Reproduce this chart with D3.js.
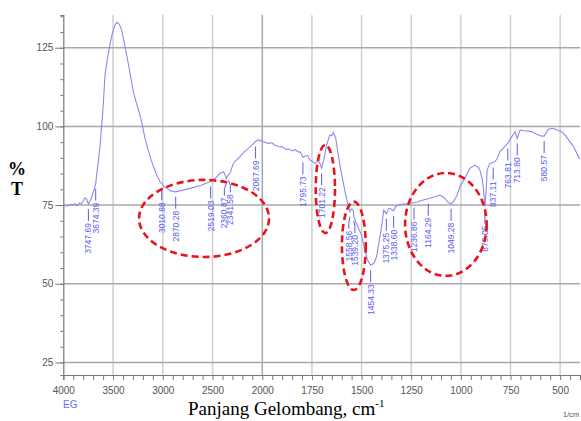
<!DOCTYPE html>
<html>
<head>
<meta charset="utf-8">
<script src="https://cdn.jsdelivr.net/npm/d3@7"></script>
<style>
  html, body { margin: 0; padding: 0; background: #fff; }
  svg { display: block; }
  .narrow { font-family: "Liberation Sans Narrow", "Arial Narrow", "Liberation Sans", sans-serif; font-stretch: condensed; }
</style>
</head>
<body>
<div id="chart"></div>
<script>
// FTIR spectrum (%T vs wavenumber)
const wavenumbers = [4000,3960,3930,3900,3880,3860,3840,3820,3800,3782,3765,3747.69,3720,3700,3690,3674.39,3665,3648,3630,3614,3600,3581,3560,3538,3515,3497,3475,3457,3435,3413,3390,3363,3330,3296,3260,3229,3200,3179,3145,3112,3070,3028,3010.88,2990,2960,2920,2870.28,2820,2727,2620,2526,2519.03,2470,2425,2390,2375,2360.87,2350,2341.58,2320,2291,2250,2224,2180,2124,2090,2067.69,2040,1995,1970,1953,1935,1919,1900,1880,1869,1850,1835,1818,1808,1795.73,1785,1772,1760,1745,1735,1718,1710,1701.22,1690,1676,1660,1650,1643,1630,1620,1609,1595,1583,1570,1558.56,1550,1542,1539.2,1530,1515,1500,1490,1483,1470,1454.33,1438,1425,1416,1400,1388,1375.25,1365,1358,1350,1338.6,1330,1316,1290,1257,1236,1220,1190,1164.29,1140,1106,1085,1065,1049.28,1038,1020,1005,980,954,929,915,904,892,887,879,872,868,853,837.11,828,815,803,780,763.81,744,727,716,708,702,680,660,643,620,593,580.57,560,543,525,510,492,470,450,430,408,400];
const transmittance = [74.9,74.7,75.2,75.0,75.4,74.8,75.6,75.3,76.3,77.3,76.8,75.3,77.0,79.0,80.0,81.8,84.5,88.8,94.0,100.4,106.0,116.3,121.0,124.8,128.5,130.6,132.6,133.1,132.3,130.6,127.0,122.7,117.0,111.0,106.8,103.6,99.5,96.2,92.3,88.8,85.2,82.4,81.9,80.9,80.3,79.5,79.2,79.6,80.3,81.2,82.4,82.5,83.6,85.1,85.6,84.8,83.4,84.3,84.5,85.5,88.3,89.6,90.4,92.0,93.5,94.5,95.2,95.7,95.1,94.6,94.8,94.0,93.6,93.5,92.6,92.9,92.2,92.6,91.9,91.8,90.2,90.5,90.8,89.3,88.8,88.2,89.3,88.2,86.7,89.5,94.1,97.3,97.0,98.1,96.2,92.0,87.7,83.0,79.2,75.5,72.9,73.8,73.4,71.5,69.7,67.5,65.5,62.5,60.7,57.5,55.9,56.5,58.5,61.7,68.0,73.4,72.2,73.8,74.0,73.6,73.2,74.4,75.0,75.3,75.5,75.8,76.0,76.6,77.0,77.5,78.2,77.4,75.9,75.4,76.0,78.0,80.8,83.5,86.7,87.7,87.1,86.1,83.0,80.8,74.5,80.0,86.1,88.3,88.5,88.8,90.0,92.0,93.5,94.6,96.7,98.3,96.2,97.8,98.8,98.6,98.5,98.3,97.6,96.9,96.9,99.0,99.4,99.2,98.7,98.3,96.8,95.1,93.3,90.4,89.7];

// peak annotations
const peakWn = [3747.69,3674.39,3010.88,2870.28,2519.03,2360.87,2341.58,2067.69,1795.73,1701.22,1558.56,1539.2,1454.33,1375.25,1338.6,1236,1164.29,1049.28,879,837.11,763.81,716,580.57];
const peakLabels = ["3747.69","3674.39","3010.88","2870.28","2519.03","2360.87","2341.58","2067.69","1795.73","1701.22","1558.56","1539.20","1454.33","1375.25","1338.60","1236.86","1164.29","1049.28","879.05","837.11","763.81","713.80","580.57"];

// axis ticks
const xTickLabels = [4000,3500,3000,2500,2000,1750,1500,1250,1000,750,500];
const yTickLabels = [25,50,75,100,125];

// red dashed ellipses: [wnLeft, wnRight, tTop, tBottom]
const ellipses = [
  [3239, 1966, 83.0, 58.5],
  [1731, 1634, 94.1, 66.1],
  [1599, 1479, 76.1, 48.0],
  [1281, 870, 85.2, 52.5]
];

const W = 581, H = 421;
const svg = d3.select('#chart').append('svg').attr('width', W).attr('height', H);

// FTIR axis: 4000-2000 compressed, 2000-400 at double scale
const x = d3.scaleLinear().domain([4000, 2000, 400]).range([63.3, 262.3, 580]);
const y = d3.scaleLinear().domain([21, 135.4]).range([375, 15]);

const data = wavenumbers.map((w,i) => ({ w, t: transmittance[i] }));

// grid
const grid = svg.append('g');
grid.selectAll('line.v').data(xTickLabels.filter(v => v !== 4000)).enter().append('line')
  .attr('x1', d => x(d)).attr('x2', d => x(d))
  .attr('y1', y.range()[1]).attr('y2', y.range()[0])
  .attr('stroke', d => d === 2000 ? '#a8a8a8' : '#cfcfcf').attr('stroke-width', 1.5);
grid.selectAll('line.h').data(yTickLabels).enter().append('line')
  .attr('x1', x(4000)).attr('x2', x(400))
  .attr('y1', d => y(d)).attr('y2', d => y(d))
  .attr('stroke', '#a8a8a8').attr('stroke-width', 1.5);

// x axis
const xMinor = d3.range(4000, 2000, -100).concat(d3.range(2000, 399, -50));
svg.append('g')
  .attr('transform', `translate(0,${y(21)})`)
  .call(d3.axisBottom(x).tickValues(xMinor).tickSize(5).tickFormat(''))
  .call(g => g.select('.domain').attr('stroke', '#777').attr('stroke-width', 1.2))
  .call(g => g.selectAll('.tick line').attr('stroke', '#777'));
svg.append('g')
  .attr('transform', `translate(0,${y(21)})`)
  .call(d3.axisBottom(x).tickValues(xTickLabels).tickSize(0).tickPadding(12).tickFormat(d3.format('d')))
  .call(g => g.select('.domain').remove())
  .call(g => g.selectAll('text').attr('class', 'narrow').attr('font-size', 10).attr('fill', '#555'));

// y axis
svg.append('g')
  .attr('transform', `translate(${x(4000)},0)`)
  .call(d3.axisLeft(y).tickValues(d3.range(25, 136, 5)).tickSize(3).tickFormat(''))
  .call(g => g.select('.domain').attr('stroke', '#777').attr('stroke-width', 1.2))
  .call(g => g.selectAll('.tick line').attr('stroke', '#777'));
svg.append('g')
  .attr('transform', `translate(${x(4000)},0)`)
  .call(d3.axisLeft(y).tickValues(yTickLabels).tickSize(8).tickPadding(2).tickFormat(d3.format('d')))
  .call(g => g.select('.domain').remove())
  .call(g => g.selectAll('.tick line').attr('stroke', '#777'))
  .call(g => g.selectAll('text').attr('class', 'narrow').attr('font-size', 10).attr('fill', '#555'));

// spectrum
svg.append('path')
  .datum(data)
  .attr('fill', 'none')
  .attr('stroke', '#8a8af2')
  .attr('stroke-width', 1.1)
  .attr('d', d3.line().x(d => x(d.w)).y(d => y(d.t)));

// peak markers
const bis = d3.bisector(d => -d.w).left;
function tAt(w) {
  const i = Math.max(1, Math.min(data.length - 1, bis(data, -w)));
  const a = data[i-1], b = data[i];
  return a.t + (b.t - a.t) * (w - a.w) / (b.w - a.w);
}
const peaks = peakWn.map((w,i) => ({ w, label: peakLabels[i], px: x(w), lx: x(w), py: y(tAt(w)) }));
// spread labels that sit too close to each other
for (let i = 1; i < peaks.length; i++) {
  const gap = peaks[i].lx - peaks[i-1].lx;
  if (gap < 6) {
    const push = (6 - gap) / 2;
    peaks[i-1].lx -= push;
    peaks[i].lx += push;
  }
}
const pk = svg.append('g').selectAll('g').data(peaks).enter().append('g');
pk.append('polyline')
  .attr('points', d => `${d.px},${d.py + 5} ${d.lx},${d.py + 10} ${d.lx},${d.py + 17}`)
  .attr('fill', 'none')
  .attr('stroke', '#5a5aee').attr('stroke-width', 1);
pk.append('text')
  .attr('class', 'narrow')
  .attr('transform', d => `translate(${d.lx + 3},${d.py + 19}) rotate(-90)`)
  .attr('text-anchor', 'end')
  .attr('font-size', 8.5)
  .attr('fill', '#5a5aee')
  .text(d => d.label);

// red dashed ellipses
svg.append('g').selectAll('ellipse').data(ellipses).enter().append('ellipse')
  .attr('cx', d => (x(d[0]) + x(d[1])) / 2)
  .attr('cy', d => (y(d[2]) + y(d[3])) / 2)
  .attr('rx', d => (x(d[1]) - x(d[0])) / 2)
  .attr('ry', d => (y(d[3]) - y(d[2])) / 2)
  .attr('fill', 'none')
  .attr('stroke', '#e8141c')
  .attr('stroke-width', 2.6)
  .attr('stroke-dasharray', '7,4');

// labels
svg.append('text').attr('class', 'narrow').attr('x', 63).attr('y', 408)
  .attr('font-size', 10).attr('fill', '#6a6aff').text('EG');
svg.append('text').attr('class', 'narrow').attr('x', 563).attr('y', 417)
  .attr('font-size', 7.5).attr('fill', '#555').text('1/cm');

const serif = '"Liberation Serif", "Times New Roman", serif';
svg.append('text').attr('x', 17).attr('y', 175).attr('text-anchor', 'middle')
  .attr('font-family', serif).attr('font-weight', 'bold').attr('font-size', 18).text('%');
svg.append('text').attr('x', 17).attr('y', 195).attr('text-anchor', 'middle')
  .attr('font-family', serif).attr('font-weight', 'bold').attr('font-size', 18).text('T');

const title = svg.append('text').attr('x', 188).attr('y', 415)
  .attr('font-family', serif).attr('font-size', 19).attr('fill', '#000');
title.append('tspan').text('Panjang Gelombang, cm');
title.append('tspan').attr('dy', -8).attr('font-size', 11).text('-1');
</script>
</body>
</html>
